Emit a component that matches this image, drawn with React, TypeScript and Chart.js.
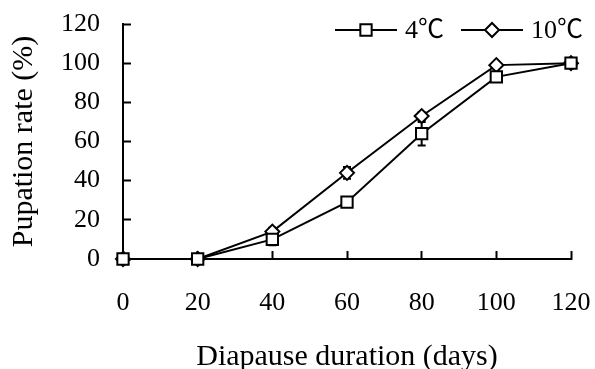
import React, { useEffect, useRef } from 'react';
import { Chart, registerables } from 'chart.js';
import { drawPoint } from 'chart.js/helpers';

Chart.register(...registerables);

const days = [0, 20, 40, 60, 80, 100, 120];
const rate4 = [0, 0, 10, 29, 64, 93, 100];
const err4 = [0, 0, 3, 2, 6, 2, 1];
const rate10 = [0, 0, 14, 44, 73, 99, 100];
const err10 = [0, 0, 2, 3, 2, 1, 1];
const seriesLabels = ['4℃', '10℃'];
const xTitle = 'Diapause duration (days)';
const yTitle = 'Pupation rate (%)';

const FONT = "'Liberation Serif', 'Times New Roman', 'Noto Sans CJK SC', serif";

const errorBarPlugin = {
  id: 'errorBars',
  beforeDatasetsDraw(chart: any) {
    const ctx = chart.ctx;
    const yScale = chart.scales.y;
    const errs = [err4, err10];
    ctx.save();
    ctx.strokeStyle = '#000';
    ctx.lineWidth = 2;
    chart.data.datasets.forEach((ds: any, i: number) => {
      const meta = chart.getDatasetMeta(i);
      meta.data.forEach((pt: any, j: number) => {
        const e = errs[i][j];
        if (!e) return;
        const v = ds.data[j].y;
        const yTop = yScale.getPixelForValue(v + e);
        const yBot = yScale.getPixelForValue(v - e);
        const x = pt.x;
        ctx.beginPath();
        ctx.moveTo(x, yTop);
        ctx.lineTo(x, yBot);
        ctx.moveTo(x - 4, yTop);
        ctx.lineTo(x + 4, yTop);
        ctx.moveTo(x - 4, yBot);
        ctx.lineTo(x + 4, yBot);
        ctx.stroke();
      });
    });
    ctx.restore();
  },
};

const legendPlugin = {
  id: 'lineLegend',
  afterDraw(chart: any) {
    const ctx = chart.ctx;
    ctx.save();
    ctx.font = `26px ${FONT}`;
    ctx.textBaseline = 'middle';
    ctx.textAlign = 'left';
    const y = 30;
    let x = 335;
    const lineLen = 62;
    chart.data.datasets.forEach((ds: any) => {
      ctx.strokeStyle = ds.borderColor;
      ctx.lineWidth = ds.borderWidth;
      ctx.beginPath();
      ctx.moveTo(x, y);
      ctx.lineTo(x + lineLen, y);
      ctx.stroke();
      ctx.fillStyle = ds.pointBackgroundColor;
      ctx.strokeStyle = ds.pointBorderColor;
      ctx.lineWidth = ds.pointBorderWidth;
      drawPoint(ctx, {
        pointStyle: ds.pointStyle,
        radius: ds.pointRadius,
        borderWidth: ds.pointBorderWidth,
        rotation: 0,
      } as any, x + lineLen / 2, y);
      ctx.fillStyle = '#000';
      ctx.fillText(ds.label, x + lineLen + 8, y + 1);
      const w = ctx.measureText(ds.label).width;
      x = x + lineLen + 8 + w + 17;
    });
    ctx.restore();
  },
};

export default function App() {
  const ref = useRef<HTMLCanvasElement | null>(null);
  useEffect(() => {
    if (!ref.current) return;
    const mk = (vals: number[]) => days.map((d, i) => ({ x: d, y: vals[i] }));
    const chart = new Chart(ref.current, {
      type: 'line',
      data: {
        datasets: [
          {
            label: seriesLabels[0],
            data: mk(rate4),
            borderColor: '#000',
            borderWidth: 2,
            pointStyle: 'rect',
            pointRadius: 8,
            pointBackgroundColor: '#fff',
            pointBorderColor: '#000',
            pointBorderWidth: 2,
            clip: false as any,
            tension: 0,
          },
          {
            label: seriesLabels[1],
            data: mk(rate10),
            borderColor: '#000',
            borderWidth: 2,
            pointStyle: 'rectRot',
            pointRadius: 7,
            pointBackgroundColor: '#fff',
            pointBorderColor: '#000',
            pointBorderWidth: 2,
            clip: false as any,
            tension: 0,
          },
        ],
      },
      options: {
        responsive: false,
        animation: false,
        devicePixelRatio: 1,
        layout: { padding: { left: 0, top: 24, right: 24, bottom: 0 } },
        plugins: { legend: { display: false }, tooltip: { enabled: false } },
        scales: {
          x: {
            type: 'linear',
            min: 0,
            max: 120,
            ticks: {
              stepSize: 20,
              color: '#000',
              font: { family: FONT, size: 26, lineHeight: 1.2 },
              padding: 37,
              maxRotation: 0,
            },
            grid: {
              drawOnChartArea: false,
              drawTicks: true,
              tickLength: -8,
              tickColor: '#000',
              tickWidth: 2,
            },
            border: { display: true, color: '#000', width: 2 },
            title: {
              display: true,
              text: xTitle,
              color: '#000',
              font: { family: FONT, size: 30, lineHeight: 1 },
              padding: { top: 0, bottom: -3 },
            },
            afterFit: (s: any) => {
              s.height = 110;
              s.paddingLeft = 0;
              s.paddingRight = 0;
            },
          },
          y: {
            min: 0,
            max: 120,
            ticks: {
              stepSize: 20,
              color: '#000',
              font: { family: FONT, size: 26, lineHeight: 1.2 },
              padding: 31,
            },
            grid: {
              drawOnChartArea: false,
              drawTicks: true,
              tickLength: -8,
              tickColor: '#000',
              tickWidth: 2,
            },
            border: { display: true, color: '#000', width: 2 },
            title: {
              display: true,
              text: yTitle,
              color: '#000',
              font: { family: FONT, size: 30, lineHeight: 1 },
              padding: { top: 9, bottom: 0 },
            },
            afterFit: (s: any) => {
              s.width = 123;
              s.paddingTop = 0;
              s.paddingBottom = 0;
            },
          },
        },
      },
      plugins: [errorBarPlugin, legendPlugin],
    });
    return () => chart.destroy();
  }, []);
  return (
    <div style={{ position: 'fixed', left: 0, top: 0, width: 595, height: 369, background: '#fff' }}>
      <canvas ref={ref} width={595} height={369} style={{ display: 'block', width: 595, height: 369 }} />
    </div>
  );
}
